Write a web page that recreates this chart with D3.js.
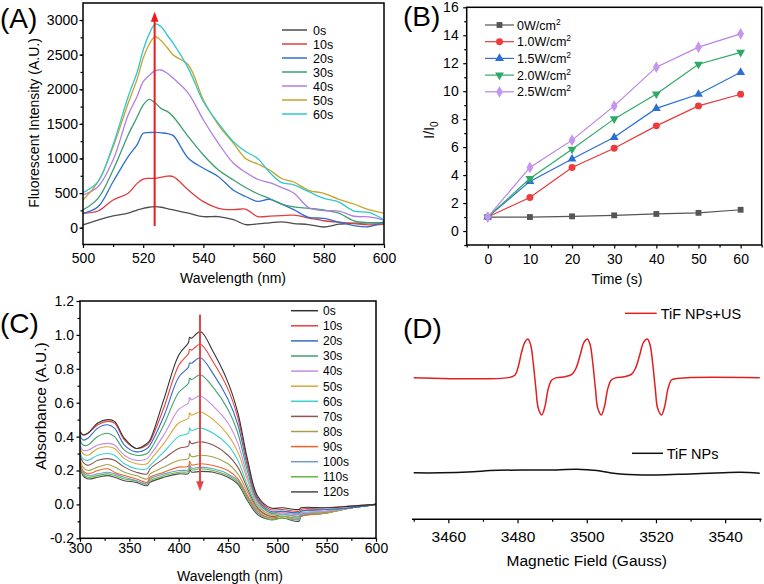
<!DOCTYPE html>
<html><head><meta charset="utf-8">
<script src="https://cdn.jsdelivr.net/npm/d3@7"></script>
<style>
body{margin:0;background:#fff}
svg{display:block}
</style>
</head><body>
<svg id="chart" width="764" height="584"></svg>
<script>
// ---------------- DATA ----------------
// Panel A: fluorescence spectra
const flWave = [500,505,510,515,518,520,522,524,526,528,530,535,540,545,550,554,558,562,566,570,575,580,585,590,595,600];
const fl0s  = [40,110,170,210,255,280,295,303,295,275,256,210,160,160,115,45,55,70,85,60,45,10,50,65,70,70];
const fl10s = [207,241,400,497,640,700,712,713,730,745,737,544,376,280,260,268,160,168,175,180,140,100,80,60,40,53];
const fl20s = [207,303,664,1026,1200,1363,1375,1378,1370,1360,1330,1002,858,737,540,450,380,410,340,260,150,135,80,30,15,87];
const fl30s = [256,424,833,1339,1600,1772,1855,1800,1720,1680,1603,1314,1050,833,688,580,490,420,340,300,280,256,210,100,72,63];
const fl40s = [472,592,978,1628,1900,2109,2200,2270,2278,2230,2158,1941,1556,1219,930,800,700,650,580,500,290,246,240,165,155,111];
const fl50s = [400,664,1170,1797,2150,2447,2650,2760,2700,2600,2494,2350,1845,1483,1219,1000,920,833,710,660,540,497,410,342,260,208];
const fl60s = [506,664,1200,1892,2250,2567,2800,2942,2900,2780,2663,2302,1820,1508,1242,1100,1000,800,650,620,520,424,370,240,220,111];
const flLabels = ["0s","10s","20s","30s","40s","50s","60s"];
const flColors = ["#4d4d4d","#e03c3c","#2e6fd1","#3d9e6e","#b07fe0","#c9a22a","#2ec8cf"];
const flArrow = {x:523.8, from:25, to:3120};
const flYTicks = [0,500,1000,1500,2000,2500,3000];
const flXTicks = [500,520,540,560,580,600];

// Panel B: I/I0 vs time
const timeS = [0,10,20,30,40,50,60];
const ratio0W  = [1,1.0,1.05,1.12,1.22,1.30,1.52];
const ratio10W = [1,2.40,4.55,5.92,7.52,8.95,9.78];
const ratio15W = [1,3.55,5.15,6.70,8.77,9.78,11.35];
const ratio20W = [1,3.75,5.85,8.02,9.80,11.93,12.78];
const ratio25W = [1,4.55,6.50,8.95,11.72,13.15,14.10];
const powerLabels = ["0W/cm","1.0W/cm","1.5W/cm","2.0W/cm","2.5W/cm"];
const powerColors = ["#555555","#e8393a","#2a6fd6","#2eaa66","#b884e6"];
const bYTicks = [0,2,4,6,8,10,12,14,16];
const bXTicks = [0,10,20,30,40,50,60];

// Panel C: absorbance spectra
const absWave = [300,303,308,318,328,335,345,357,368,371,385,400,410,411,413,422,435,450,460,470,480,493,505,522,524,550,575,600];
const abs0s   = [.43,.41,.42,.48,.50,.49,.39,.33,.36,.38,.62,.88,.955,.985,.98,1.02,.90,.72,.54,.26,.05,-.02,-.02,-.03,-.02,-.02,-.01,0];
const abs10s  = [.43,.41,.42,.47,.49,.48,.38,.33,.35,.37,.57,.82,.89,.915,.91,.945,.84,.68,.51,.24,.04,-.03,-.03,-.04,-.03,-.02,-.01,0];
const abs20s  = [.41,.38,.39,.45,.47,.45,.35,.31,.33,.35,.52,.75,.81,.835,.833,.865,.77,.62,.47,.22,.03,-.04,-.04,-.05,-.04,-.03,-.02,0];
const abs30s  = [.38,.35,.35,.40,.42,.40,.32,.29,.30,.32,.47,.66,.715,.745,.736,.765,.69,.56,.42,.19,.02,-.05,-.04,-.05,-.04,-.03,-.02,0];
const abs40s  = [.35,.32,.32,.35,.36,.35,.29,.26,.27,.29,.41,.56,.60,.63,.618,.64,.58,.48,.36,.16,.01,-.05,-.05,-.06,-.05,-.04,-.02,0];
const abs50s  = [.33,.30,.29,.33,.34,.33,.27,.24,.24,.26,.36,.48,.51,.54,.527,.545,.50,.41,.31,.14,0,-.06,-.05,-.06,-.05,-.04,-.02,0];
const abs60s  = [.31,.27,.26,.29,.30,.29,.24,.21,.21,.23,.31,.40,.42,.45,.436,.45,.42,.35,.26,.11,-.01,-.06,-.06,-.07,-.06,-.04,-.02,0];
const abs70s  = [.29,.25,.23,.26,.27,.26,.22,.19,.18,.21,.27,.33,.345,.375,.359,.37,.35,.29,.22,.09,-.02,-.07,-.06,-.07,-.06,-.04,-.02,0];
const abs80s  = [.27,.22,.20,.22,.235,.22,.19,.17,.15,.18,.22,.26,.27,.30,.282,.29,.28,.24,.18,.07,-.03,-.07,-.07,-.08,-.06,-.05,-.02,0];
const abs90s  = [.26,.20,.18,.20,.21,.19,.17,.15,.13,.16,.19,.22,.225,.255,.234,.24,.23,.20,.15,.05,-.04,-.08,-.07,-.08,-.07,-.05,-.02,0];
const abs100s = [.25,.19,.17,.18,.19,.18,.16,.14,.12,.15,.18,.20,.205,.235,.214,.22,.21,.18,.14,.04,-.05,-.08,-.07,-.09,-.07,-.05,-.02,0];
const abs110s = [.25,.18,.16,.17,.18,.17,.15,.14,.12,.14,.17,.19,.195,.225,.204,.21,.20,.17,.13,.03,-.05,-.09,-.08,-.09,-.07,-.05,-.02,0];
const abs120s = [.24,.17,.15,.16,.17,.16,.14,.13,.11,.13,.16,.18,.182,.21,.191,.195,.19,.16,.12,.02,-.06,-.09,-.08,-.10,-.07,-.05,-.02,0];
const absLabels = ["0s","10s","20s","30s","40s","50s","60s","70s","80s","90s","100s","110s","120s"];
const absColors = ["#333333","#e8413e","#2f6ccf","#41a070","#c38de6","#d8a83c","#3ccfd2","#8b5656","#a4a24a","#f0622a","#6f9ccc","#5fba3c","#4a4a4a"];
const absArrow = {x:421.6, from:1.12, to:0.078};
const cYTicks = [-0.2,0,0.2,0.4,0.6,0.8,1.0,1.2];
const cXTicks = [300,350,400,450,500,550,600];

// Panel D: EPR spectra (arbitrary intensity units)
const eprRedG = [3450,3477.3,3479.3,3480.2,3481.2,3482.2,3483.0,3483.8,3484.6,3485.3,3486.0,3487.0,3487.9,3488.9,3489.9,3491.3,3493.7,3495.7,3496.9,3498.1,3499.2,3500.2,3501.0,3501.8,3502.5,3503.2,3504.2,3505.1,3506.1,3507.1,3508.5,3510.9,3512.9,3514.1,3515.3,3516.4,3517.5,3518.3,3519.1,3519.8,3520.5,3521.6,3522.5,3523.5,3524.5,3526.0,3529.0,3550];
const eprRedV = [6.46,6.46,6.58,6.96,7.64,8.10,8.22,7.95,7.04,5.97,5.06,4.76,5.13,5.97,6.35,6.46,6.50,6.61,6.89,7.49,8.07,8.22,7.95,7.04,5.97,5.06,4.76,5.13,5.97,6.35,6.46,6.50,6.61,6.89,7.49,8.07,8.22,7.95,7.04,5.97,5.06,4.76,5.13,5.97,6.35,6.42,6.46,6.46];
const eprBlackG = [3450,3457.6,3467.2,3472.1,3481.7,3491.3,3497.1,3502.9,3506.7,3510.6,3520.2,3529.9,3539.5,3544.3,3550];
const eprBlackV = [2.12,2.12,2.17,2.22,2.25,2.25,2.28,2.22,2.12,2.05,2.02,2.07,2.12,2.14,2.10];
const dXTicks = [3460,3480,3500,3520,3540];

// ---------------- DRAWING ----------------
const FONT = "'Liberation Sans', Arial, Helvetica, sans-serif";
const svg = d3.select("#chart");
svg.append("rect").attr("width",764).attr("height",584).attr("fill","#fff");

function axis(g, scale, orient, major, minor, fmt, len, pad, fs, tr) {
  const mk = orient === "left" ? d3.axisLeft : d3.axisBottom;
  const dom = scale.domain();
  const lo = Math.min(dom[0],dom[1]) - 1e-9, hi = Math.max(dom[0],dom[1]) + 1e-9;
  const mn = minor.filter(v => v >= lo && v <= hi);
  const a1 = g.append("g").attr("transform", tr).call(mk(scale).tickValues(mn).tickSize(2.5).tickFormat(""));
  const a2 = g.append("g").attr("transform", tr).call(mk(scale).tickValues(major).tickSize(len).tickPadding(pad).tickFormat(fmt));
  [a1,a2].forEach(a => {
    a.select(".domain").remove();
    a.selectAll("line").attr("stroke","#000").attr("stroke-width",1.2);
  });
  a2.selectAll("text").attr("font-size",fs).attr("font-family",FONT).attr("fill","#000");
}
function frame(x, y) {
  const [x0,x1] = x.range(), [y0,y1] = y.range();
  svg.append("rect").attr("x",x0).attr("y",y1).attr("width",x1-x0).attr("height",y0-y1)
    .attr("fill","none").attr("stroke","#000").attr("stroke-width",1.5);
}
function text(t, x, y, fs, opts={}) {
  const el = svg.append("text").attr("x",x).attr("y",y).attr("font-size",fs)
    .attr("font-family",FONT).attr("fill",opts.fill||"#000").attr("text-anchor",opts.anchor||"start");
  if (opts.rotate) el.attr("transform",`rotate(-90,${x},${y})`);
  el.text(t);
  return el;
}
function range(a,b,s){ const r=[]; for(let v=a; v<=b+1e-9; v+=s) r.push(+v.toFixed(6)); return r; }

// ===== Panel A =====
{
  const x = d3.scaleLinear([500,600],[83,384]);
  const y = d3.scaleLinear([-243,3246],[244.5,3]);
  const g = svg.append("g");
  axis(g, y, "left", flYTicks, range(-250,3250,250), d3.format("d"), 3.5, 1.5, 14, "translate(83,0)");
  axis(g, x, "bottom", flXTicks, range(510,590,20), d3.format("d"), 3.5, 5.5, 14, "translate(0,244.5)");
  const series = [fl0s,fl10s,fl20s,fl30s,fl40s,fl50s,fl60s];
  const line = d3.line().x(d=>x(d[0])).y(d=>y(d[1])).curve(d3.curveCatmullRom.alpha(0.5));
  series.forEach((s,i) => {
    g.append("path").attr("d", line(flWave.map((w,j)=>[w,s[j]])))
      .attr("fill","none").attr("stroke",flColors[i]).attr("stroke-width",1.3);
  });
  const ax = x(flArrow.x), ay0 = y(flArrow.from), ay1 = y(flArrow.to);
  g.append("line").attr("x1",ax).attr("x2",ax).attr("y1",ay0).attr("y2",ay1+8)
    .attr("stroke","#f01818").attr("stroke-width",2);
  g.append("path").attr("d",`M${ax},${ay1} L${ax-3.8},${ay1+10} L${ax+3.8},${ay1+10} Z`).attr("fill","#f01818");
  frame(x,y);
  flLabels.forEach((l,i) => {
    const yy = 30 + i*14;
    g.append("line").attr("x1",282).attr("x2",307).attr("y1",yy).attr("y2",yy)
      .attr("stroke",flColors[i]).attr("stroke-width",1.5);
    text(l, 313, yy+4.5, 12.5);
  });
  text("Wavelength (nm)", 233, 282.5, 14, {anchor:"middle"});
  text("Fluorescent Intensity (A.U.)", 39, 123, 14, {anchor:"middle", rotate:true});
  text("(A)", 0, 28, 28);
}

// ===== Panel B =====
{
  const x = d3.scaleLinear([-5,65],[466.7,761.7]);
  const y = d3.scaleLinear([-1,16],[245,7.3]);
  const g = svg.append("g");
  axis(g, y, "left", bYTicks, range(-1,15,2), d3.format("d"), 3.5, 4.5, 14, "translate(466.7,0)");
  axis(g, x, "bottom", bXTicks, range(-5,65,10), d3.format("d"), 3.5, 6, 14, "translate(0,245)");
  const series = [ratio0W,ratio10W,ratio15W,ratio20W,ratio25W];
  const syms = [d3.symbolSquare, d3.symbolCircle, d3.symbolTriangle, d3.symbolTriangle, d3.symbolDiamond];
  const sizes = [34, 38, 34, 34, 40];
  const rots = [0,0,0,180,0];
  const fills = ["#555555","#ee3b3b","#2a6fd6","#2eaa66","#c595ef"];
  const line = d3.line().x(d=>x(d[0])).y(d=>y(d[1]));
  series.forEach((s,i) => {
    const pts = timeS.map((t,j)=>[t,s[j]]);
    g.append("path").attr("d", line(pts)).attr("fill","none").attr("stroke",powerColors[i]).attr("stroke-width",1.2);
    const sym = d3.symbol().type(syms[i]).size(sizes[i]);
    pts.forEach(p => {
      g.append("path").attr("d", sym()).attr("fill",fills[i])
        .attr("transform",`translate(${x(p[0])},${y(p[1])}) rotate(${rots[i]})`);
    });
  });
  frame(x,y);
  powerLabels.forEach((l,i) => {
    const yy = 25 + i*16.7;
    g.append("line").attr("x1",485).attr("x2",514).attr("y1",yy).attr("y2",yy)
      .attr("stroke",powerColors[i]).attr("stroke-width",1.2);
    const sym = d3.symbol().type(syms[i]).size(sizes[i]);
    g.append("path").attr("d", sym()).attr("fill",fills[i]).attr("transform",`translate(499.5,${yy}) rotate(${rots[i]})`);
    const t = text(l, 517, yy+4.5, 12.5);
    t.append("tspan").attr("dy",-5).attr("font-size",8.5).text("2");
  });
  text("Time (s)", 617, 284, 14, {anchor:"middle"});
  const yl = text("I/I", 434, 130, 14, {anchor:"middle", rotate:true});
  yl.append("tspan").attr("dy",3.5).attr("font-size",10).text("0");
  text("(B)", 403, 26, 28);
}

// ===== Panel C =====
{
  const x = d3.scaleLinear([300,600],[80,376]);
  const y = d3.scaleLinear([-0.2,1.2],[538.3,301]);
  const g = svg.append("g");
  axis(g, y, "left", cYTicks, range(-0.1,1.1,0.2), v=>v.toFixed(1), 3.5, 2.5, 14, "translate(80,0)");
  axis(g, x, "bottom", cXTicks, range(325,575,50), d3.format("d"), 3.5, 1.5, 14, "translate(0,538.3)");
  const series = [abs0s,abs10s,abs20s,abs30s,abs40s,abs50s,abs60s,abs70s,abs80s,abs90s,abs100s,abs110s,abs120s];
  const line = d3.line().x(d=>x(d[0])).y(d=>y(d[1])).curve(d3.curveCatmullRom.alpha(0.5));
  for (let i = series.length-1; i >= 0; i--) {
    g.append("path").attr("d", line(absWave.map((w,j)=>[w,series[i][j]])))
      .attr("fill","none").attr("stroke",absColors[i]).attr("stroke-width",1.1);
  }
  const ax = x(absArrow.x), ay0 = y(absArrow.from), ay1 = y(absArrow.to);
  g.append("line").attr("x1",ax).attr("x2",ax).attr("y1",ay0).attr("y2",ay1-8)
    .attr("stroke","#e04848").attr("stroke-width",2);
  g.append("path").attr("d",`M${ax},${ay1} L${ax-3.8},${ay1-10} L${ax+3.8},${ay1-10} Z`).attr("fill","#e04848");
  frame(x,y);
  absLabels.forEach((l,i) => {
    const yy = 310.7 + i*15.1;
    g.append("line").attr("x1",291).attr("x2",318).attr("y1",yy).attr("y2",yy)
      .attr("stroke",absColors[i]).attr("stroke-width",1.5);
    text(l, 323, yy+4.3, 12);
  });
  text("Wavelength (nm)", 230, 580.5, 14, {anchor:"middle"});
  text("Absorbance (A.U.)", 46, 406, 15.5, {anchor:"middle", rotate:true});
  text("(C)", 0, 333, 28);
}

// ===== Panel D =====
{
  const x = d3.scaleLinear([3449.5,3550.5],[412,761.5]);
  const y = d3.scaleLinear([0,10],[519.3,300]);
  const g = svg.append("g");
  g.append("line").attr("x1",412).attr("x2",761.5).attr("y1",519.3).attr("y2",519.3)
    .attr("stroke","#000").attr("stroke-width",1.5);
  axis(g, x, "bottom", dXTicks, range(3450,3550,20), d3.format("d"), 4, 8, 15.5, "translate(0,519.3)");
  const line = d3.line().x(d=>x(d[0])).y(d=>y(d[1])).curve(d3.curveCatmullRom.alpha(0.5));
  g.append("path").attr("d", line(eprRedG.map((v,j)=>[v,eprRedV[j]])))
    .attr("fill","none").attr("stroke","#e02020").attr("stroke-width",1.5);
  g.append("path").attr("d", line(eprBlackG.map((v,j)=>[v,eprBlackV[j]])))
    .attr("fill","none").attr("stroke","#111").attr("stroke-width",1.5);
  g.append("line").attr("x1",625).attr("x2",656.7).attr("y1",313.3).attr("y2",313.3).attr("stroke","#e02020").attr("stroke-width",1.5);
  text("TiF NPs+US", 660.7, 318.5, 14.5);
  g.append("line").attr("x1",632).attr("x2",663).attr("y1",453.3).attr("y2",453.3).attr("stroke","#111").attr("stroke-width",1.5);
  text("TiF NPs", 666.7, 458.5, 14.5);
  text("Magnetic Field (Gauss)", 586.7, 566, 15.5, {anchor:"middle"});
  text("(D)", 403, 338, 28);
}
</script>
</body></html>
